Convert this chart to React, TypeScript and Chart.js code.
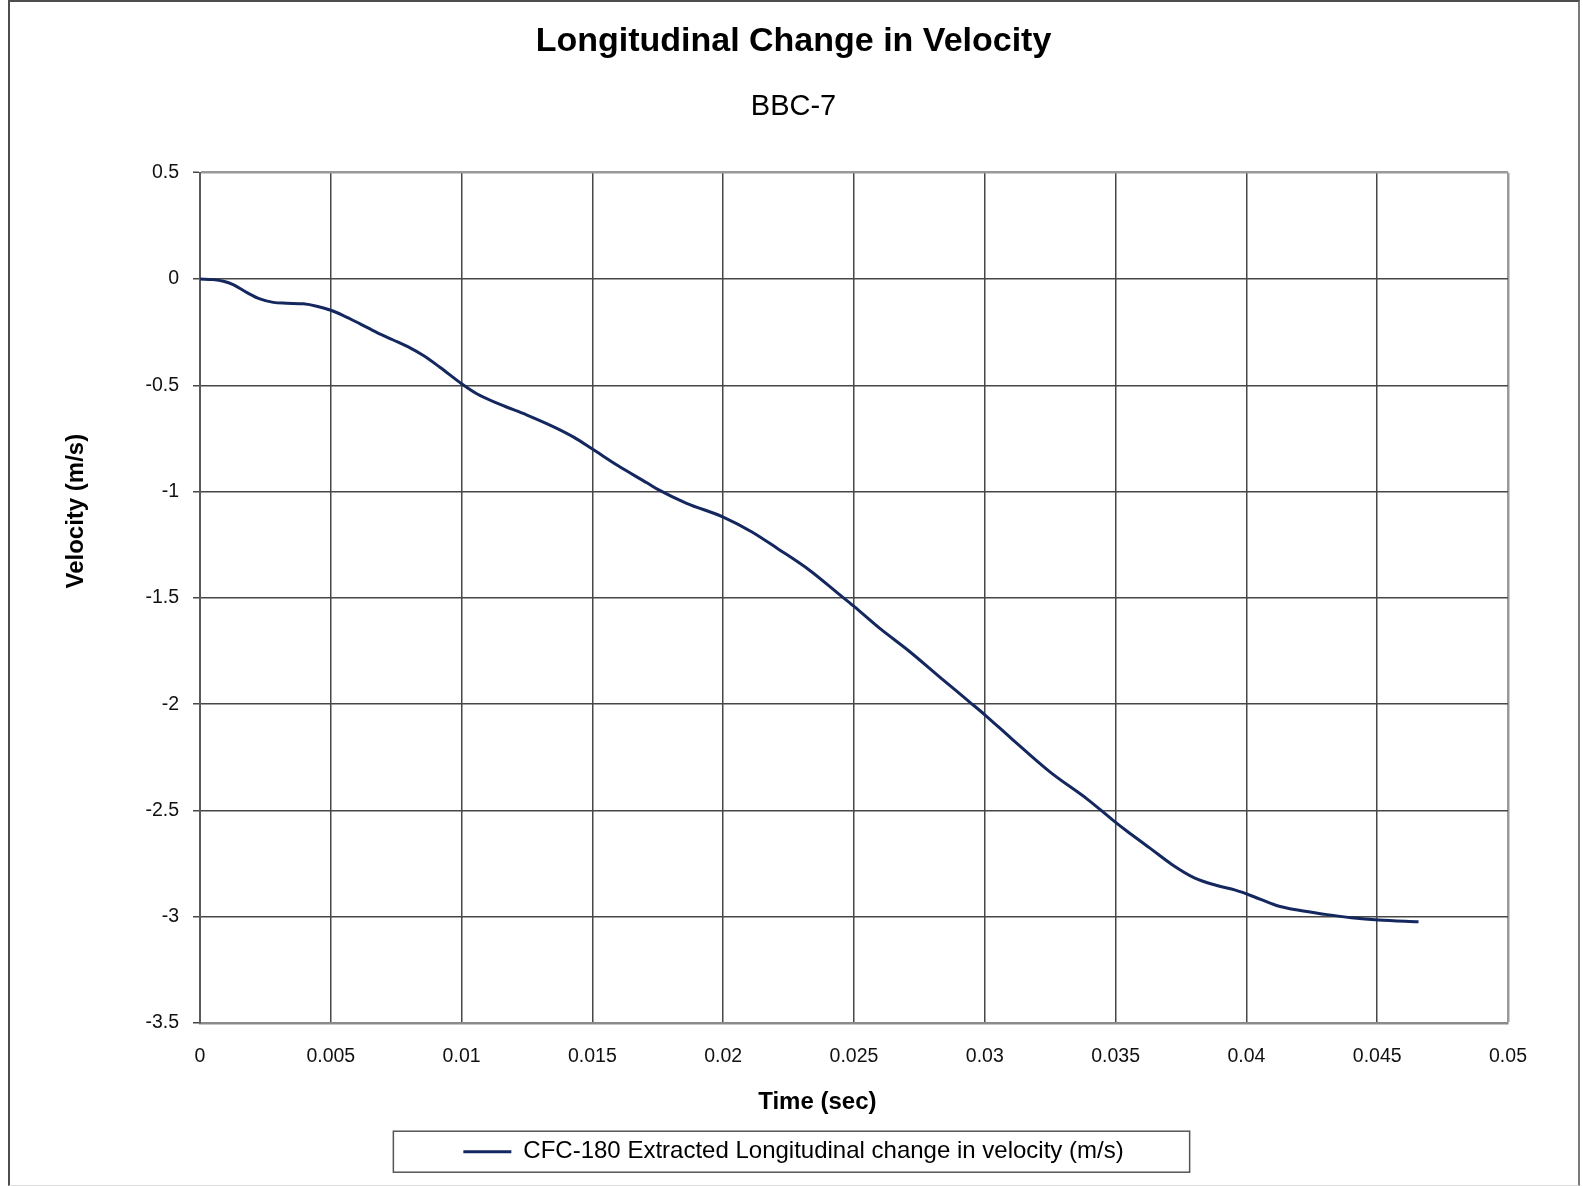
import React, { useEffect, useRef } from "react";
import { Chart, registerables } from "chart.js";

Chart.register(...registerables);

const chartTitle = "Longitudinal Change in Velocity";
const chartSubtitle = "BBC-7";
const seriesLabel = "CFC-180 Extracted Longitudinal change in velocity (m/s)";
const xAxisTitle = "Time (sec)";
const yAxisTitle = "Velocity (m/s)";

// time (s)
const timeSec = [
  0, 0.0005, 0.0009, 0.00127, 0.00178, 0.00229, 0.0028, 0.0033, 0.00395, 0.00446,
  0.00497, 0.00548, 0.00612, 0.00675, 0.00739, 0.00803, 0.00854, 0.00917, 0.01, 0.01058,
  0.01147, 0.0125, 0.0136, 0.0143, 0.015, 0.016, 0.0171, 0.0175, 0.0186, 0.02,
  0.0211, 0.0221, 0.0233, 0.0244, 0.025, 0.026, 0.0271, 0.0283, 0.0294, 0.03,
  0.031, 0.0325, 0.03394, 0.03487, 0.03544, 0.0363, 0.03715, 0.03801, 0.03887, 0.03958,
  0.04029, 0.04115, 0.04201, 0.04301, 0.04401, 0.04505, 0.04658,
];

// velocity change (m/s)
const velocity = [
  0, -0.003, -0.011, -0.027, -0.063, -0.094, -0.11, -0.114, -0.117, -0.128,
  -0.146, -0.172, -0.211, -0.251, -0.287, -0.324, -0.36, -0.415, -0.493, -0.54,
  -0.59, -0.64, -0.7, -0.745, -0.8, -0.88, -0.96, -0.99, -1.055, -1.12,
  -1.19, -1.27, -1.37, -1.48, -1.54, -1.645, -1.75, -1.875, -1.988, -2.05,
  -2.16, -2.32, -2.449, -2.543, -2.598, -2.676, -2.754, -2.817, -2.853, -2.875,
  -2.906, -2.947, -2.97, -2.989, -3.005, -3.016, -3.024,
];

const xTickValues = [0, 0.005, 0.01, 0.015, 0.02, 0.025, 0.03, 0.035, 0.04, 0.045, 0.05];
const xTickLabels = ["0", "0.005", "0.01", "0.015", "0.02", "0.025", "0.03", "0.035", "0.04", "0.045", "0.05"];
const yTickValues = [-3.5, -3, -2.5, -2, -1.5, -1, -0.5, 0, 0.5];
const yTickLabels = ["-3.5", "-3", "-2.5", "-2", "-1.5", "-1", "-0.5", "0", "0.5"];

const FONT = "'Liberation Sans', Arial, Helvetica, sans-serif";
const W = 1583;
const H = 1186;

function labelFor(values: number[], labels: string[], v: number): string {
  const i = values.findIndex((x) => Math.abs(x - v) < 1e-9);
  return i >= 0 ? labels[i] : "";
}

const legendFrame = {
  id: "legendFrame",
  afterDraw(chart: any) {
    const hb = chart.legend && chart.legend.legendHitBoxes && chart.legend.legendHitBoxes[0];
    if (!hb) return;
    const ctx = chart.ctx;
    ctx.save();
    ctx.strokeStyle = "#555555";
    ctx.lineWidth = 1.5;
    ctx.strokeRect(hb.left - 70, hb.top + hb.height / 2 - 20.5, hb.width + 136, 41);
    ctx.restore();
  },
};

export default function App() {
  const canvasRef = useRef<HTMLCanvasElement | null>(null);

  useEffect(() => {
    const canvas = canvasRef.current;
    if (!canvas) return;
    const chart = new Chart(canvas, {
      type: "line",
      data: {
        datasets: [
          {
            label: seriesLabel,
            data: timeSec.map((t, i) => ({ x: t, y: velocity[i] })),
            borderColor: "#14285f",
            backgroundColor: "#14285f",
            borderWidth: 3,
            pointRadius: 0,
            cubicInterpolationMode: "monotone",
            fill: false,
          },
        ],
      },
      options: {
        responsive: false,
        animation: false,
        devicePixelRatio: 1,
        layout: { padding: { top: 0, left: 79, right: 75, bottom: 12.3 } },
        plugins: {
          title: {
            display: true,
            text: chartTitle,
            color: "#000000",
            font: { family: FONT, size: 34, weight: "bold" },
            padding: { top: 21.6, bottom: 0 },
          },
          subtitle: {
            display: true,
            text: chartSubtitle,
            color: "#000000",
            font: { family: FONT, size: 29, weight: "normal" },
            padding: { top: 27.2, bottom: 48.3 },
          },
          legend: {
            display: true,
            position: "bottom",
            labels: {
              usePointStyle: true,
              pointStyle: "line",
              pointStyleWidth: 48,
              color: "#000000",
              font: { family: FONT, size: 24 },
              padding: 22.8,
            },
          },
          tooltip: { enabled: false },
        },
        scales: {
          x: {
            type: "linear",
            min: 0,
            max: 0.05,
            afterBuildTicks: (s: any) => {
              s.ticks = xTickValues.map((value) => ({ value }));
            },
            afterFit: (s: any) => {
              s.height = 93.9;
            },
            ticks: {
              autoSkip: false,
              maxRotation: 0,
              padding: 22.3,
              color: "#111111",
              font: { family: FONT, size: 19.5 },
              callback: (v: any) => labelFor(xTickValues, xTickLabels, Number(v)),
            },
            grid: {
              drawTicks: false,
              color: (c: any) => (c.tick && Math.abs(c.tick.value - 0.05) < 1e-9 ? "#9a9a9a" : "#474747"),
              lineWidth: (c: any) => (c.tick && Math.abs(c.tick.value - 0.05) < 1e-9 ? 2.5 : 1.5),
            },
            border: { color: "#8a8a8a", width: 2.5 },
            title: {
              display: true,
              text: xAxisTitle + " ".repeat(11),
              color: "#000000",
              font: { family: FONT, size: 24, weight: "bold" },
              padding: { top: 0, bottom: 0 },
            },
          },
          y: {
            type: "linear",
            min: -3.5,
            max: 0.5,
            afterBuildTicks: (s: any) => {
              s.ticks = yTickValues.map((value) => ({ value }));
            },
            afterFit: (s: any) => {
              s.width = 121;
            },
            ticks: {
              autoSkip: false,
              padding: 14,
              color: "#111111",
              font: { family: FONT, size: 19.5 },
              callback: (v: any) => labelFor(yTickValues, yTickLabels, Number(v)),
            },
            grid: {
              drawTicks: true,
              tickLength: 7,
              tickColor: "#474747",
              tickWidth: 1.5,
              color: (c: any) => (c.tick && Math.abs(c.tick.value - 0.5) < 1e-9 ? "#9a9a9a" : "#474747"),
              lineWidth: (c: any) => (c.tick && Math.abs(c.tick.value - 0.5) < 1e-9 ? 2.5 : 1.5),
            },
            border: { color: "#5a5a5a", width: 2 },
            title: {
              display: true,
              text: " ".repeat(26) + yAxisTitle,
              color: "#000000",
              font: { family: FONT, size: 24, weight: "bold" },
              padding: { top: -17.4, bottom: 0 },
            },
          },
        },
      },
      plugins: [legendFrame],
    } as any);
    return () => chart.destroy();
  }, []);

  return (
    <div style={{ position: "absolute", left: 0, top: 0, width: W, height: H, overflow: "hidden", background: "#ffffff" }}>
      <canvas ref={canvasRef} width={W} height={H} style={{ position: "absolute", left: 0, top: 0, width: W, height: H }} />
      <div
        style={{
          position: "absolute",
          left: 8,
          top: 0,
          width: 1572,
          height: H,
          boxSizing: "border-box",
          borderTop: "2px solid #4d4d4d",
          borderLeft: "2px solid #4d4d4d",
          borderRight: "2px solid #7a7a7a",
          borderBottom: "1px solid #dddddd",
          pointerEvents: "none",
        }}
      />
    </div>
  );
}
